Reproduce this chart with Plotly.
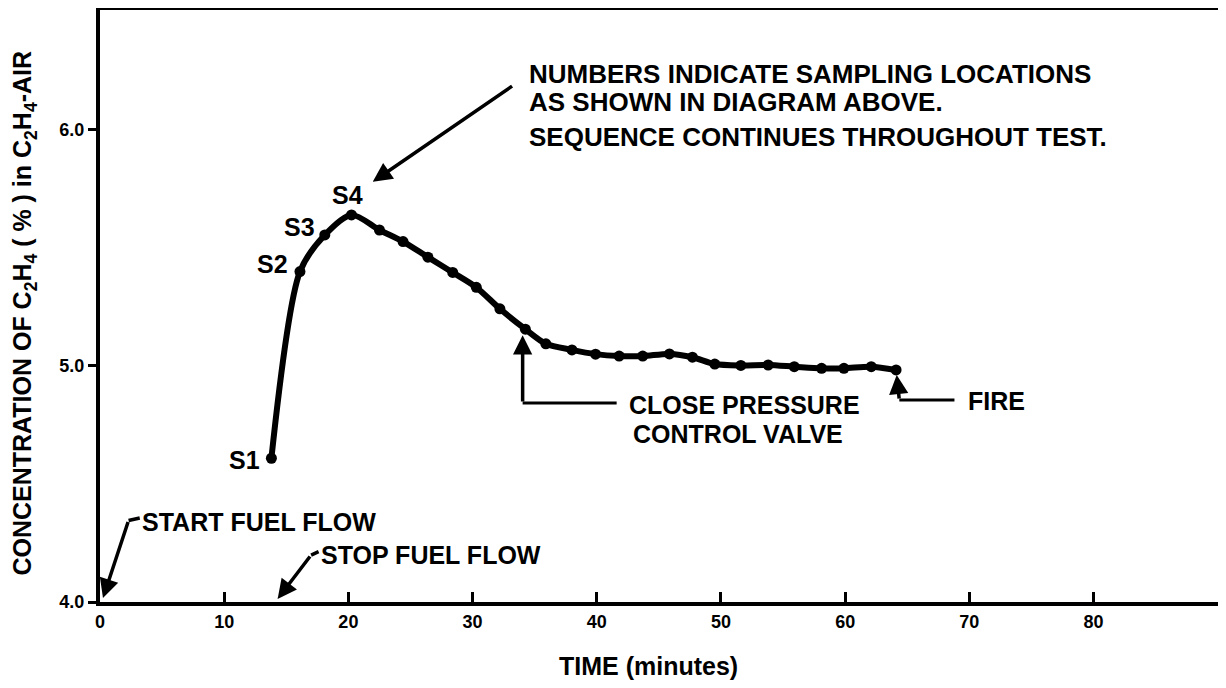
import plotly.graph_objects as go

# ---- data ----
time_min = [13.8, 16.1, 18.1, 20.25, 22.5, 24.4, 26.4, 28.4, 30.3, 32.2, 34.25, 35.9,
            38.0, 39.9, 41.8, 43.7, 45.85, 47.7, 49.5, 51.6, 53.8, 55.9, 58.1, 59.9,
            62.1, 64.1]
conc_pct = [4.609, 5.40, 5.555, 5.64, 5.576, 5.527, 5.461, 5.396, 5.333, 5.242, 5.156,
            5.094, 5.068, 5.05, 5.042, 5.042, 5.051, 5.037, 5.008, 5.002, 5.004, 4.997,
            4.99, 4.99, 4.997, 4.983]
sample_labels = ["S1", "S2", "S3", "S4"]
sample_label_x = [11.6, 13.9, 16.1, 19.9]
sample_label_y = [4.60, 5.43, 5.59, 5.725]
x_ticks = [0, 10, 20, 30, 40, 50, 60, 70, 80]
y_ticks = [4.0, 5.0, 6.0]
y_tick_text = ["4.0", "5.0", "6.0"]

FONT = "Liberation Sans, Arial, Helvetica, sans-serif"
BLACK = "#000000"
TSIZE = 25

fig = go.Figure()
fig.add_trace(go.Scatter(
    x=time_min, y=conc_pct, mode="lines+markers",
    line=dict(color=BLACK, width=6, shape="spline", smoothing=0.8),
    marker=dict(color=BLACK, size=11),
    showlegend=False, hoverinfo="skip"))

# sampling-location labels
for lab, lx, ly in zip(sample_labels, sample_label_x, sample_label_y):
    fig.add_annotation(x=lx, y=ly, text=lab, showarrow=False,
                       font=dict(family=FONT, size=TSIZE, color=BLACK, weight="bold"))

def text(x, y, s, xanchor="left", size=TSIZE):
    fig.add_annotation(x=x, y=y, text=s, showarrow=False, xanchor=xanchor, yanchor="middle",
                       align="left",
                       font=dict(family=FONT, size=size, color=BLACK, weight="bold"))

def arrow(x_head, y_head, x_tail, y_tail, width=3.5):
    fig.add_annotation(x=x_head, y=y_head, ax=x_tail, ay=y_tail, xref="x", yref="y",
                       axref="x", ayref="y", text="", showarrow=True,
                       arrowhead=2, arrowsize=1.1, arrowwidth=width, arrowcolor=BLACK)

def seg(x0, y0, x1, y1, width=3.5):
    fig.add_shape(type="line", x0=x0, y0=y0, x1=x1, y1=y1, xref="x", yref="y",
                  line=dict(color=BLACK, width=width))

# main note
text(34.4, 6.237, "NUMBERS INDICATE SAMPLING LOCATIONS", size=26)
text(34.4, 6.117, "AS SHOWN IN DIAGRAM ABOVE.", size=26)
text(34.4, 5.97, "SEQUENCE CONTINUES THROUGHOUT TEST.", size=26)
arrow(21.96, 5.78, 33.3, 6.19)

# start / stop fuel flow
text(3.2, 4.339, "START FUEL FLOW")
arrow(0.24, 4.017, 2.3, 4.345)
seg(2.3, 4.345, 3.2, 4.356)
text(17.6, 4.199, "STOP FUEL FLOW")
arrow(14.3, 4.013, 17.0, 4.199)
seg(17.0, 4.199, 17.6, 4.213)

# close pressure control valve
arrow(34.03, 5.13, 34.03, 4.843)
seg(34.03, 4.843, 41.6, 4.843, width=3)
text(42.4, 4.835, "CLOSE PRESSURE")
text(51.4, 4.71, "CONTROL VALVE", xanchor="center")

# fire
arrow(64.15, 4.962, 64.36, 4.856)
seg(64.36, 4.856, 68.8, 4.856, width=3)
text(69.7, 4.85, "FIRE")

# axis titles (placed in paper space)
fig.add_annotation(xref="paper", yref="paper", x=0.49, y=-0.108, yanchor="middle",
                   text="TIME (minutes)", showarrow=False,
                   font=dict(family=FONT, size=TSIZE, color=BLACK, weight="bold"))
fig.add_annotation(xref="paper", yref="paper", x=-0.0675, y=0.488, xanchor="center",
                   yanchor="middle", textangle=-90, showarrow=False,
                   text="CONCENTRATION OF C<sub>2</sub>H<sub>4</sub> ( % ) in C<sub>2</sub>H<sub>4</sub>-AIR",
                   font=dict(family=FONT, size=25, color=BLACK, weight="bold"))

axis_font = dict(family=FONT, size=18, color=BLACK, weight="bold")
fig.update_layout(
    width=1226, height=688,
    margin=dict(l=92, r=15, t=2, b=94),
    paper_bgcolor="white", plot_bgcolor="white",
    font=dict(family=FONT, color=BLACK, weight="bold"),
    xaxis=dict(range=[0, 90.1], tickvals=x_ticks, ticks="inside", ticklen=10,
               tickwidth=3, tickcolor=BLACK, showgrid=False, zeroline=False,
               showline=True, linewidth=4, linecolor=BLACK, mirror=True,
               tickfont=axis_font, automargin=False),
    yaxis=dict(range=[4.0, 6.508], tickvals=y_ticks, ticktext=y_tick_text, ticks="outside",
               ticklen=8, tickwidth=3, tickcolor=BLACK, showgrid=False, zeroline=False,
               showline=True, linewidth=4, linecolor=BLACK, mirror=True,
               tickfont=axis_font, automargin=False),
    yaxis2=dict(range=[4.0, 6.508], overlaying="y", side="left", tickvals=[5.0, 6.0],
                ticks="inside", ticklen=8, tickwidth=3, tickcolor=BLACK,
                showticklabels=False, showgrid=False, zeroline=False, showline=False,
                automargin=False),
)

fig.write_html("out.html")
